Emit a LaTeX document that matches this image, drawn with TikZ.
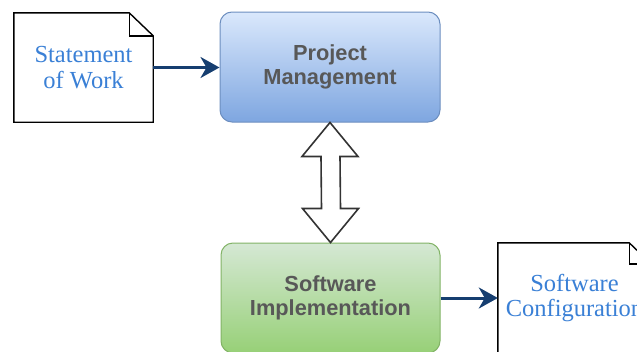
\documentclass[tikz,border=0pt]{standalone}
\usepackage{fontspec}
\setmainfont{Liberation Serif}
\setsansfont{Liberation Sans}
\usetikzlibrary{arrows.meta,calc}
\definecolor{navy}{RGB}{22,62,112}
\definecolor{docblue}{RGB}{58,128,214}
\definecolor{boxtext}{RGB}{88,88,88}
\definecolor{pmtop}{RGB}{218,232,252}
\definecolor{pmbot}{RGB}{126,166,224}
\definecolor{pmline}{RGB}{108,142,191}
\definecolor{sitop}{RGB}{213,232,212}
\definecolor{sibot}{RGB}{151,208,119}
\definecolor{siline}{RGB}{130,179,102}
\tikzset{
  doctext/.style={align=center, text=docblue, inner sep=0pt,
    font=\fontsize{24.5}{25.5}\selectfont},
  docline/.style={draw=black, line width=1.4pt, fill=white, line join=miter},
  procbox/.style={rounded corners=12pt, line width=1pt, align=center,
    text=boxtext, inner sep=0pt,
    font=\sffamily\bfseries\fontsize{21.8}{24.5}\selectfont},
  flow/.style={draw=navy, line width=3pt,
    -{Stealth[length=19pt,width=21pt,inset=6pt]}},
  dblarrow/.style={draw={rgb,255:red,51;green,51;blue,51}, fill=white, line width=1.6pt, line join=miter}
}
\begin{document}
\begin{tikzpicture}[x=1pt,y=-1pt]
\useasboundingbox (0,0) rectangle (637,351);
% Statement of Work document
\node[minimum width=139pt, minimum height=109pt, inner sep=0pt] (sow) at (83.5,67.5) {};
\draw[docline] (sow.north west) -- ([xshift=-24pt]sow.north east)
  -- ([yshift=-23pt]sow.north east) -- (sow.south east) -- (sow.south west) -- cycle;
\draw[docline, fill=none] ([xshift=-24pt]sow.north east) |- ([yshift=-23pt]sow.north east);
\node[doctext] (sowt) at (sow.center) {Statement\\of Work};
% Project Management
\node[procbox, top color=pmtop, bottom color=pmbot, draw=pmline,
  minimum width=220pt, minimum height=110pt] (pm) at (330,67) {Project\\Management};
% Software Implementation
\node[procbox, top color=sitop, bottom color=sibot, draw=siline,
  minimum width=219pt, minimum height=110pt] (si) at (330.5,298) {Software\\Implementation};
% Software Configuration document
\node[minimum width=153pt, minimum height=110pt, inner sep=0pt] (sc) at (574.5,298) {};
\draw[docline] (sc.north west) -- ([xshift=-22pt]sc.north east)
  -- ([yshift=-21pt]sc.north east) -- (sc.south east) -- (sc.south west) -- cycle;
\draw[docline, fill=none] ([xshift=-22pt]sc.north east) |- ([yshift=-21pt]sc.north east);
\node[doctext] (sct) at (sc.center) {Software\\Configuration};
% connectors
\draw[flow] (sow.east) -- (sow.east -| pm.west);
\draw[flow] (si.east) -- (si.east -| sc.west);
% double arrow
\coordinate (ta) at (pm.south);
\coordinate (tb) at (si.north);
\draw[dblarrow] (ta) -- ($(ta)+(28,34)$) -- ($(ta)+(10,34)$) -- ($(tb)+(10,-34)$)
  -- ($(tb)+(28,-34)$) -- (tb) -- ($(tb)+(-28,-34)$) -- ($(tb)+(-9,-34)$)
  -- ($(ta)+(-9,34)$) -- ($(ta)+(-28,34)$) -- cycle;
\end{tikzpicture}
\end{document}
